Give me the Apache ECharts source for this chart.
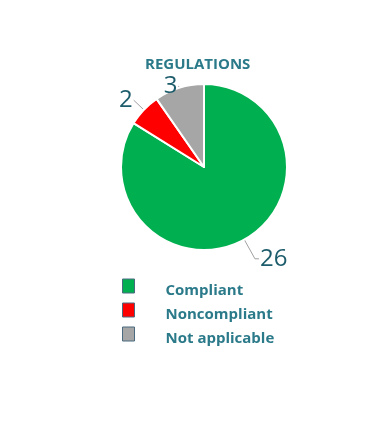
<!DOCTYPE html>
<html><head><meta charset="utf-8">
<script src="https://cdn.jsdelivr.net/npm/echarts@6/dist/echarts.min.js"></script>
<style>html,body{margin:0;padding:0;background:#fff}#c{width:371px;height:430px}</style>
</head><body><div id="c"></div>
<script>
const categories = ['Compliant', 'Noncompliant', 'Not applicable'];
const values = [26, 2, 3];
const colors = ['#00b050', '#ff0000', '#a6a6a6'];
const title = 'REGULATIONS';

const lineLens = [[22, 4], [14, 0], [2, 0]];

const chart = echarts.init(document.getElementById('c'));
chart.setOption({
  animation: false,
  title: {
    text: title, left: 145, top: 57, padding: 0,
    textStyle: {fontFamily: 'Open Sans', fontWeight: 'bold', fontSize: 15, color: '#2b7a8a'}
  },
  legend: {
    orient: 'vertical', left: 122, top: 274, itemGap: 0, padding: 0,
    itemWidth: 12, itemHeight: 14, icon: 'rect',
    itemStyle: {borderColor: '#4a6a80', borderWidth: 1},
    formatter: name => '{t|' + name + '}',
    textStyle: {
      rich: {t: {fontFamily: 'Open Sans', fontWeight: 'bold', fontSize: 15, color: '#2b7a8a', lineHeight: 18, padding: [9, 0, 0, 26]}}
    },
    data: categories
  },
  series: [{
    type: 'pie', center: [204, 167], radius: 83, startAngle: 90,
    avoidLabelOverlap: false,
    data: categories.map((c, i) => ({
      name: c, value: values[i], itemStyle: {color: colors[i]},
      labelLine: {length: lineLens[i][0], length2: lineLens[i][1]}
    })),
    itemStyle: {borderColor: '#fff', borderWidth: 2},
    label: {formatter: '{c}', fontFamily: 'Open Sans', fontSize: 24, color: '#1d5c6b', distanceToLabelLine: 1},
    labelLine: {lineStyle: {color: '#a0a0a0', width: 1}}
  }]
});
</script></body></html>
